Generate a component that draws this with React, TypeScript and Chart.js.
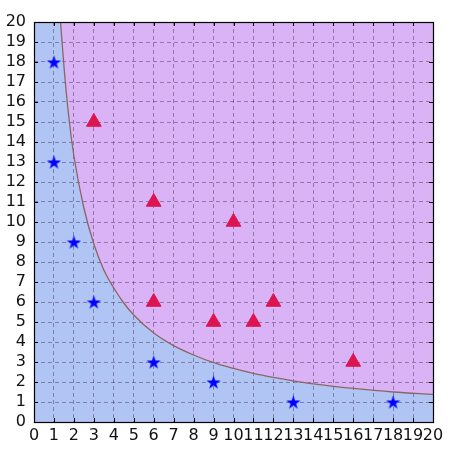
import React, { useEffect, useRef } from "react";
import { Chart, registerables } from "chart.js";

Chart.register(...registerables);

const X_MIN = 0;
const X_MAX = 20;
const Y_MIN = 0;
const Y_MAX = 20;
const TICK_VALUES = [0, 1, 2, 3, 4, 5, 6, 7, 8, 9, 10, 11, 12, 13, 14, 15, 16, 17, 18, 19, 20];

const starX = [1, 1, 2, 3, 6, 9, 13, 18];
const starY = [18, 13, 9, 6, 3, 2, 1, 1];

const triX = [3, 6, 10, 6, 9, 11, 12, 16];
const triY = [15, 11, 10, 6, 5, 5, 6, 3];

const curveX = [1.33, 1.5, 1.75, 2, 2.5, 3, 3.5, 4, 4.5, 5, 6, 7, 8, 9, 10, 11, 12, 13, 14, 16, 18, 20];
const curveY = [20, 17.8, 15.2, 13.3, 10.7, 8.9, 7.6, 6.7, 5.95, 5.35, 4.45, 3.82, 3.35, 2.97, 2.68, 2.43, 2.23, 2.06, 1.91, 1.68, 1.5, 1.38];

const BLUE_BG = "#b1c5f5";
const PURPLE_BG = "#dab3f6";

function makeStar(size: number, color: string): HTMLCanvasElement {
  const c = document.createElement("canvas");
  c.width = size;
  c.height = size;
  const ctx = c.getContext("2d")!;
  const cx = size / 2;
  const cy = size / 2;
  const R = size / 2;
  const r = R * 0.382;
  ctx.beginPath();
  for (let i = 0; i < 10; i++) {
    const rad = i % 2 === 0 ? R : r;
    const a = -Math.PI / 2 + (i * Math.PI) / 5;
    const px = cx + rad * Math.cos(a);
    const py = cy + rad * Math.sin(a) + R * 0.1;
    if (i === 0) ctx.moveTo(px, py);
    else ctx.lineTo(px, py);
  }
  ctx.closePath();
  ctx.fillStyle = color;
  ctx.fill();
  return c;
}

const frameAndTicks = {
  id: "frameAndTicks",
  afterDraw(chart: any) {
    const { ctx, chartArea } = chart;
    const xs = chart.scales.x;
    const ys = chart.scales.y;
    ctx.save();
    ctx.strokeStyle = "#000";
    ctx.lineWidth = 1;
    const L = 4;
    ctx.beginPath();
    TICK_VALUES.forEach((v) => {
      const px = Math.round(xs.getPixelForValue(v)) + 0.5;
      ctx.moveTo(px, chartArea.bottom);
      ctx.lineTo(px, chartArea.bottom - L);
      ctx.moveTo(px, chartArea.top);
      ctx.lineTo(px, chartArea.top + L);
      const py = Math.round(ys.getPixelForValue(v)) + 0.5;
      ctx.moveTo(chartArea.left, py);
      ctx.lineTo(chartArea.left + L, py);
      ctx.moveTo(chartArea.right, py);
      ctx.lineTo(chartArea.right - L, py);
    });
    ctx.stroke();
    ctx.lineWidth = 1.2;
    ctx.strokeRect(
      Math.round(chartArea.left) + 0.5,
      Math.round(chartArea.top) + 0.5,
      Math.round(chartArea.right - chartArea.left),
      Math.round(chartArea.bottom - chartArea.top)
    );
    ctx.restore();
  },
};

export default function App() {
  const ref = useRef<HTMLCanvasElement | null>(null);

  useEffect(() => {
    if (!ref.current) return;
    const curve = curveX.map((x, i) => ({ x, y: curveY[i] }));
    const blue = [{ x: X_MIN, y: Y_MAX }, ...curve];
    const star = makeStar(15, "#0000ff");

    const gridCommon = {
      color: "rgba(50,30,70,0.42)",
      lineWidth: 1,
      drawTicks: false,
    };
    const tickFont = { family: "DejaVu Sans", size: 16 };

    const chart = new Chart(ref.current, {
      type: "scatter",
      data: {
        datasets: [
          {
            data: blue,
            showLine: true,
            borderWidth: 0,
            borderColor: "rgba(0,0,0,0)",
            pointRadius: 0,
            backgroundColor: BLUE_BG,
            fill: "start",
            cubicInterpolationMode: "monotone",
            order: 5,
          } as any,
          {
            data: curve,
            showLine: true,
            borderWidth: 1.3,
            borderColor: "#8a6565",
            pointRadius: 0,
            backgroundColor: PURPLE_BG,
            fill: "end",
            cubicInterpolationMode: "monotone",
            order: 4,
          } as any,
          {
            data: triX.map((x, i) => ({ x, y: triY[i] })),
            pointStyle: "triangle",
            pointRadius: 8.5,
            backgroundColor: "#dc1450",
            borderColor: "#dc1450",
            borderWidth: 1,
            order: 1,
          } as any,
          {
            data: starX.map((x, i) => ({ x, y: starY[i] })),
            pointStyle: star,
            pointRadius: 7,
            order: 0,
          } as any,
        ],
      },
      options: {
        responsive: false,
        animation: false,
        devicePixelRatio: 1,
        layout: { padding: { top: 22, right: 28, left: 0, bottom: 0 } },
        plugins: {
          legend: { display: false },
          tooltip: { enabled: false },
          filler: { drawTime: "beforeDraw" },
        } as any,
        scales: {
          x: {
            type: "linear",
            min: X_MIN,
            max: X_MAX,
            afterBuildTicks: (s: any) => {
              s.ticks = TICK_VALUES.map((v) => ({ value: v }));
            },
            afterFit: (s: any) => {
              s.height = 40;
            },
            ticks: {
              autoSkip: false,
              maxRotation: 0,
              minRotation: 0,
              padding: 4,
              color: "#111",
              font: tickFont,
            },
            grid: gridCommon,
            border: { display: false, dash: [4, 3] },
          },
          y: {
            type: "linear",
            min: Y_MIN,
            max: Y_MAX,
            afterBuildTicks: (s: any) => {
              s.ticks = TICK_VALUES.map((v) => ({ value: v }));
            },
            afterFit: (s: any) => {
              s.width = 34;
            },
            ticks: {
              autoSkip: false,
              padding: 8,
              color: "#111",
              font: tickFont,
            },
            grid: gridCommon,
            border: { display: false, dash: [4, 3] },
          },
        },
      } as any,
      plugins: [frameAndTicks],
    });
    return () => chart.destroy();
  }, []);

  return (
    <div style={{ position: "fixed", left: 0, top: 0, width: 461, height: 462, background: "#fff" }}>
      <canvas ref={ref} width={461} height={462} style={{ width: 461, height: 462 }} />
    </div>
  );
}
